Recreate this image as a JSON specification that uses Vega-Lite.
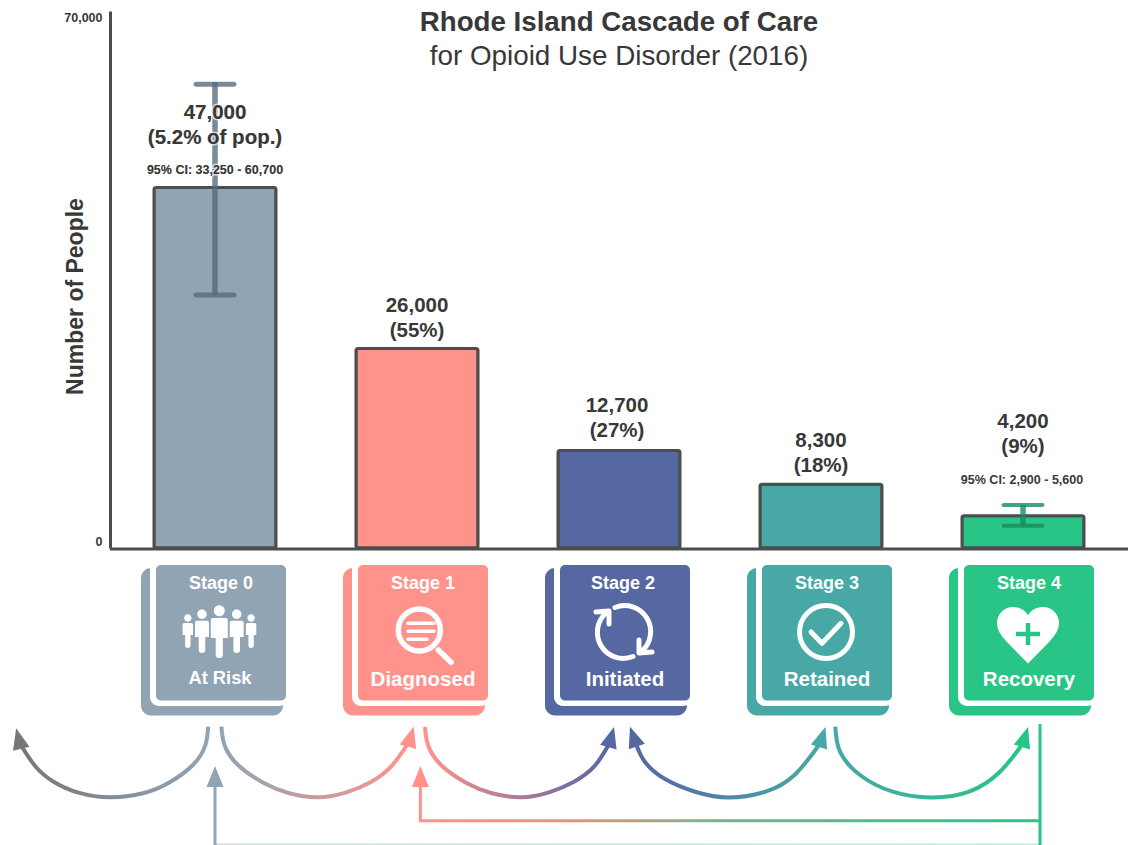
{
"$schema":"https://vega.github.io/schema/vega-lite/v6.json",
"width":1132,"height":845,"padding":0,"autosize":{"type":"none"},"background":"#ffffff",
"config":{"view":{"stroke":null},"font":"Liberation Sans","text":{"font":"Liberation Sans"}},
"title":{"text":"Rhode Island Cascade of Care","subtitle":"for Opioid Use Disorder (2016)","anchor":"middle","frame":"group","dx":53,"dy":75,"font":"Liberation Sans","fontSize":27.7,"fontWeight":"bold","color":"#383838","subtitleFont":"Liberation Sans","subtitleFontSize":27.8,"subtitleColor":"#383838","subtitlePadding":7},
"datasets":{
"stages":[
{"stage":"Stage 0","name":"At Risk","people":47000,"line1":"47,000","line2":"(5.2% of pop.)","ci":"95% CI: 33,250 - 60,700"},
{"stage":"Stage 1","name":"Diagnosed","people":26000,"line1":"26,000","line2":"(55%)"},
{"stage":"Stage 2","name":"Initiated","people":12700,"line1":"12,700","line2":"(27%)"},
{"stage":"Stage 3","name":"Retained","people":8300,"line1":"8,300","line2":"(18%)"},
{"stage":"Stage 4","name":"Recovery","people":4200,"line1":"4,200","line2":"(9%)","ci":"95% CI: 2,900 - 5,600"}],
"cis":[{"stage":"Stage 0","low":33250,"high":60700},{"stage":"Stage 4","low":2900,"high":5600}],
"arcs":[
{"arc":"exit","across":208.2,"down":726.7},{"arc":"exit","across":205.4,"down":745},{"arc":"exit","across":192.9,"down":765},{"arc":"exit","across":167.9,"down":783.3},{"arc":"exit","across":142.9,"down":793.3},{"arc":"exit","across":110.7,"down":797.3},{"arc":"exit","across":78.6,"down":792.7},{"arc":"exit","across":53.6,"down":781.7},{"arc":"exit","across":35.7,"down":766.7},{"arc":"exit","across":21.4,"down":746},
{"arc":"a01","across":221.4,"down":726.7},{"arc":"a01","across":224.5,"down":745},{"arc":"a01","across":238,"down":765},{"arc":"a01","across":264.3,"down":783.3},{"arc":"a01","across":289.3,"down":793.3},{"arc":"a01","across":317.9,"down":797.3},{"arc":"a01","across":346.4,"down":792.3},{"arc":"a01","across":371.4,"down":781.7},{"arc":"a01","across":391,"down":766.7},{"arc":"a01","across":407,"down":745},
{"arc":"a12","across":425,"down":727},{"arc":"a12","across":428,"down":745},{"arc":"a12","across":441,"down":765},{"arc":"a12","across":467,"down":783.3},{"arc":"a12","across":492,"down":793.3},{"arc":"a12","across":521,"down":797.3},{"arc":"a12","across":549,"down":792.3},{"arc":"a12","across":574,"down":781.7},{"arc":"a12","across":594,"down":766.7},{"arc":"a12","across":608,"down":746},
{"arc":"a23","across":636,"down":744},{"arc":"a23","across":645,"down":762},{"arc":"a23","across":665,"down":779},{"arc":"a23","across":696,"down":792},{"arc":"a23","across":729,"down":797.5},{"arc":"a23","across":765.5,"down":791.7},{"arc":"a23","across":794.5,"down":775},{"arc":"a23","across":819,"down":745},
{"arc":"a34","across":835.3,"down":726.7},{"arc":"a34","across":840,"down":751.7},{"arc":"a34","across":860,"down":775},{"arc":"a34","across":892.7,"down":791.7},{"arc":"a34","across":931,"down":797.5},{"arc":"a34","across":969,"down":791.7},{"arc":"a34","across":1000,"down":771.7},{"arc":"a34","across":1021.8,"down":745}],
"heads":[
{"toward":"Exit","across":18.7,"down":738.5,"angle":-14},
{"toward":"Stage 1","across":410.8,"down":736.6,"angle":15.6},
{"toward":"Stage 2","across":611.2,"down":737,"angle":15.6},
{"toward":"Stage 2","across":633.4,"down":736.6,"angle":-18.8},
{"toward":"Stage 3","across":822.2,"down":737,"angle":17.7},
{"toward":"Stage 4","across":1025,"down":737,"angle":17},
{"toward":"Stage 0","across":215,"down":776.5,"angle":0},
{"toward":"Stage 1","across":420.4,"down":776.5,"angle":0}],
"stems":[
{"stage":"Stage 4","across":1040,"top":724,"bottom":845},
{"stage":"Stage 1","across":420.4,"top":784,"bottom":822},
{"stage":"Stage 0","across":215,"top":784,"bottom":845}]
},
"resolve":{"scale":{"x":"independent","y":"independent"}},
"layer":[
{"data":{"name":"stages"},"mark":{"type":"bar","stroke":"#4d4d4d","strokeWidth":3,"cornerRadius":2},"encoding":{
"x":{"field":"stage","type":"nominal","axis":null,"sort":null,"scale":{"type":"band","domain":["Stage 0","Stage 1","Stage 2","Stage 3","Stage 4"],"range":[114,1124],"paddingInner":0.396,"paddingOuter":0.198}},
"y":{"field":"people","type":"quantitative","scale":{"domain":[0,70000],"range":[548,11],"nice":false,"zero":true},
"axis":{"title":"Number of People","values":[0,70000],"format":",d","offset":-110,"ticks":false,"grid":false,"labelFlush":true,"labelFont":"Liberation Sans","labelFontSize":12.5,"labelFontWeight":"bold","labelColor":"#383838","labelPadding":8,"domainColor":"#4d4d4d","domainWidth":3,"titleFont":"Liberation Sans","titleFontSize":23,"titleFontWeight":"bold","titleColor":"#383838","titleX":-23,"titleY":296}},
"color":{"field":"stage","type":"nominal","legend":null,"scale":{"domain":["Stage 0","Stage 1","Stage 2","Stage 3","Stage 4"],"range":["#91a4b3","#ff938b","#5668a2","#47a8a6","#29c587"]}}}},
{
"data":{"name":"stages"},
"encoding":{
"x":{"field":"stage","type":"nominal","axis":null,"sort":null,"scale":{"type":"band","domain":["Stage 0","Stage 1","Stage 2","Stage 3","Stage 4"],"range":[114,1124],"paddingInner":0.396,"paddingOuter":0.198}},
"y":{"field":"people","type":"quantitative","axis":null,"scale":{"domain":[0,70000],"range":[548,11],"nice":false,"zero":true}}
},
"layer":[
{"data":{"name":"cis"},"transform":[{"filter":"datum.stage==='Stage 0'"}],"mark":{"type":"rule","stroke":"#536a7c","strokeWidth":5.5,"opacity":0.78,"yOffset":2},"encoding":{"y":{"field":"low","type":"quantitative","axis":null},"y2":{"field":"high"}}},
{"data":{"name":"cis"},"transform":[{"filter":"datum.stage==='Stage 0'"},{"fold":["low","high"],"as":["bound","bound_value"]}],"mark":{"type":"tick","size":43,"thickness":5,"cornerRadius":2.5,"color":"#536a7c","opacity":0.78,"yOffset":2},"encoding":{"y":{"field":"bound_value","type":"quantitative","axis":null}}},
{"data":{"name":"cis"},"transform":[{"filter":"datum.stage==='Stage 4'"}],"mark":{"type":"rule","stroke":"#1a8a5f","strokeWidth":5.5,"opacity":0.8},"encoding":{"y":{"field":"low","type":"quantitative","axis":null},"y2":{"field":"high"}}},
{"data":{"name":"cis"},"transform":[{"filter":"datum.stage==='Stage 4'"},{"fold":["low","high"],"as":["bound","bound_value"]}],"mark":{"type":"tick","size":43,"thickness":4,"cornerRadius":2,"color":"#1a8a5f","opacity":0.8},"encoding":{"y":{"field":"bound_value","type":"quantitative","axis":null}}},
{"transform":[{"filter":"datum.stage==='Stage 0'"}],"mark":{"type":"text","dy":-74.5,"baseline":"middle","fontSize":20.5,"fontWeight":"bold","stroke":"#ffffff","strokeWidth":3,"strokeOpacity":0.7},"encoding":{"text":{"field":"line1"}}},
{"transform":[{"filter":"datum.stage==='Stage 0'"}],"mark":{"type":"text","dy":-49.5,"baseline":"middle","fontSize":20.5,"fontWeight":"bold","stroke":"#ffffff","strokeWidth":3,"strokeOpacity":0.7},"encoding":{"text":{"field":"line2"}}},
{"transform":[{"filter":"datum.stage==='Stage 0'"}],"mark":{"type":"text","dy":-17.5,"baseline":"middle","fontSize":12.5,"fontWeight":"bold","stroke":"#ffffff","strokeWidth":3,"strokeOpacity":0.7},"encoding":{"text":{"field":"ci"}}},
{"transform":[{"filter":"datum.stage==='Stage 0'"}],"mark":{"type":"text","dy":-74.5,"baseline":"middle","fontSize":20.5,"fontWeight":"bold","color":"#383838"},"encoding":{"text":{"field":"line1"}}},
{"transform":[{"filter":"datum.stage==='Stage 0'"}],"mark":{"type":"text","dy":-49.5,"baseline":"middle","fontSize":20.5,"fontWeight":"bold","color":"#383838"},"encoding":{"text":{"field":"line2"}}},
{"transform":[{"filter":"datum.stage==='Stage 0'"}],"mark":{"type":"text","dy":-17.5,"baseline":"middle","fontSize":12.5,"fontWeight":"bold","color":"#383838"},"encoding":{"text":{"field":"ci"}}},
{"transform":[{"filter":"datum.stage==='Stage 1'||datum.stage==='Stage 3'"}],"mark":{"type":"text","dy":-43,"baseline":"middle","fontSize":20.5,"fontWeight":"bold","color":"#383838"},"encoding":{"text":{"field":"line1"}}},
{"transform":[{"filter":"datum.stage==='Stage 1'||datum.stage==='Stage 3'"}],"mark":{"type":"text","dy":-18,"baseline":"middle","fontSize":20.5,"fontWeight":"bold","color":"#383838"},"encoding":{"text":{"field":"line2"}}},
{"transform":[{"filter":"datum.stage==='Stage 2'"}],"mark":{"type":"text","dy":-45,"xOffset":-2,"baseline":"middle","fontSize":20.5,"fontWeight":"bold","color":"#383838"},"encoding":{"text":{"field":"line1"}}},
{"transform":[{"filter":"datum.stage==='Stage 2'"}],"mark":{"type":"text","dy":-20,"xOffset":-2,"baseline":"middle","fontSize":20.5,"fontWeight":"bold","color":"#383838"},"encoding":{"text":{"field":"line2"}}},
{"transform":[{"filter":"datum.stage==='Stage 4'"}],"mark":{"type":"text","dy":-94,"baseline":"middle","fontSize":20.5,"fontWeight":"bold","color":"#383838"},"encoding":{"text":{"field":"line1"}}},
{"transform":[{"filter":"datum.stage==='Stage 4'"}],"mark":{"type":"text","dy":-69,"baseline":"middle","fontSize":20.5,"fontWeight":"bold","color":"#383838"},"encoding":{"text":{"field":"line2"}}},
{"transform":[{"filter":"datum.stage==='Stage 4'"}],"mark":{"type":"text","dy":-36,"xOffset":-1,"baseline":"middle","fontSize":12.5,"fontWeight":"bold","color":"#383838"},"encoding":{"text":{"field":"ci"}}}
]
},
{
"data":{"name":"stages"},
"encoding":{
"x":{"field":"stage","type":"nominal","axis":null,"sort":null,"scale":{"type":"band","domain":["Stage 0","Stage 1","Stage 2","Stage 3","Stage 4"],"range":[114,1124],"paddingInner":0.396,"paddingOuter":0.198}}
},
"layer":[
{"mark":{"type":"rect","width":142,"xOffset":-3,"cornerRadius":10},"encoding":{"y":{"datum":568,"type":"quantitative","axis":null,"scale":{"domain":[0,845],"range":[0,845],"nice":false,"zero":false}},"y2":{"datum":715.5},"color":{"field":"stage","type":"nominal","legend":null}}},
{"mark":{"type":"rect","width":138,"xOffset":4,"cornerRadius":9,"color":"#ffffff"},"encoding":{"y":{"datum":558,"type":"quantitative","axis":null},"y2":{"datum":706}}},
{"mark":{"type":"rect","width":130,"xOffset":6,"cornerRadius":5},"encoding":{"y":{"datum":565,"type":"quantitative","axis":null},"y2":{"datum":700.5},"color":{"field":"stage","type":"nominal","legend":null}}},
{"transform":[{"filter":"datum.stage!=='Stage 2'"}],"mark":{"type":"text","xOffset":6,"baseline":"middle","fontSize":18,"fontWeight":"bold","color":"#ffffff"},"encoding":{"y":{"datum":584,"type":"quantitative","axis":null},"text":{"field":"stage"}}},
{"transform":[{"filter":"datum.stage==='Stage 2'"}],"mark":{"type":"text","xOffset":4,"baseline":"middle","fontSize":18,"fontWeight":"bold","color":"#ffffff"},"encoding":{"y":{"datum":584,"type":"quantitative","axis":null},"text":{"field":"stage"}}},
{"transform":[{"filter":"datum.stage==='Stage 0'"}],"mark":{"type":"text","xOffset":5,"baseline":"middle","fontSize":18.3,"fontWeight":"bold","color":"#ffffff"},"encoding":{"y":{"datum":679,"type":"quantitative","axis":null},"text":{"field":"name"}}},
{"transform":[{"filter":"datum.stage!=='Stage 0'"}],"mark":{"type":"text","xOffset":6,"baseline":"middle","fontSize":20.5,"fontWeight":"bold","color":"#ffffff"},"encoding":{"y":{"datum":680,"type":"quantitative","axis":null},"text":{"field":"name"}}},
{"transform":[{"filter":"datum.stage==='Stage 0'"}],"mark":{"type":"point","filled":true,"opacity":1,"color":"#ffffff","size":4,"xOffset":4.3,"shape":"M-5.5,-21.3a5.5,5.5 0 1,0 11,0a5.5,5.5 0 1,0 -11,0zM-8.5,-12q0,-2 2,-2h13q2,0 2,2v18h-4.9v16.4q0,3.6 -3.6,3.6q-3.6,0 -3.6,-3.6v-16.4h-4.9zM-22,-17.7a4.7,4.7 0 1,0 9.4,0a4.7,4.7 0 1,0 -9.4,0zM-24.3,-9.3q0,-2 2,-2h10q2,0 2,2v14.3h-3.7v12.7q0,3.3 -3.3,3.3q-3.3,0 -3.3,-3.3v-12.7h-3.7zM12.7,-17.7a4.7,4.7 0 1,0 9.4,0a4.7,4.7 0 1,0 -9.4,0zM10.4,-9.3q0,-2 2,-2h10q2,0 2,2v14.3h-3.7v12.7q0,3.3 -3.3,3.3q-3.3,0 -3.3,-3.3v-12.7h-3.7zM-35.2,-14a3.7,3.7 0 1,0 7.4,0a3.7,3.7 0 1,0 -7.4,0zM-36.7,-7.5q0,-1.5 1.5,-1.5h7.4q1.5,0 1.5,1.5v10.5h-2.5v10.3q0,2.7 -2.7,2.7q-2.7,0 -2.7,-2.7v-10.3h-2.5zM28.1,-14a3.7,3.7 0 1,0 7.4,0a3.7,3.7 0 1,0 -7.4,0zM26.6,-7.5q0,-1.5 1.5,-1.5h7.4q1.5,0 1.5,1.5v10.5h-2.5v10.3q0,2.7 -2.7,2.7q-2.7,0 -2.7,-2.7v-10.3h-2.5z"},"encoding":{"y":{"datum":632,"type":"quantitative","axis":null}}},
{"transform":[{"filter":"datum.stage==='Stage 1'"}],"mark":{"type":"point","filled":false,"opacity":1,"color":"#ffffff","strokeWidth":5.5,"strokeCap":"round","size":4,"xOffset":2.3,"shape":"M-21,0a21,21 0 1,0 42,0a21,21 0 1,0 -42,0zM19,20L31.7,32.3"},"encoding":{"y":{"datum":630,"type":"quantitative","axis":null}}},
{"transform":[{"filter":"datum.stage==='Stage 1'"}],"mark":{"type":"point","filled":false,"opacity":1,"color":"#ffffff","strokeWidth":3.5,"strokeCap":"round","size":4,"xOffset":2.3,"shape":"M-11.3,-6.7H14.7M-11.3,1.3H14.7M-11.3,9.3H7.7"},"encoding":{"y":{"datum":630,"type":"quantitative","axis":null}}},
{"transform":[{"filter":"datum.stage==='Stage 2'"}],"mark":{"type":"point","filled":false,"opacity":1,"color":"#ffffff","strokeWidth":5,"strokeCap":"round","strokeJoin":"round","size":4,"xOffset":5,"shape":"M-9,-24.5A26,26 0 0,1 18,19M9,24.5A26,26 0 0,1 -18,-19M-28,-20L-15,-21L-15,-8M28,20L15,21L15,8"},"encoding":{"y":{"datum":632,"type":"quantitative","axis":null}}},
{"transform":[{"filter":"datum.stage==='Stage 3'"}],"mark":{"type":"point","filled":false,"opacity":1,"color":"#ffffff","strokeWidth":5,"strokeCap":"round","strokeJoin":"round","size":4,"xOffset":5,"shape":"M-26.5,0a26.5,26.5 0 1,0 53,0a26.5,26.5 0 1,0 -53,0zM-15,0L-4,11.3L15,-8.7"},"encoding":{"y":{"datum":632,"type":"quantitative","axis":null}}},
{"transform":[{"filter":"datum.stage==='Stage 4'"}],"mark":{"type":"point","filled":true,"opacity":1,"color":"#ffffff","size":4,"xOffset":5,"shape":"M0,-20C-4,-26 -10,-28 -15,-28C-24,-28 -31,-21 -31,-12C-31,-5 -27,0 -22,6L0,28.5L22,6C27,0 31,-5 31,-12C31,-21 24,-28 15,-28C10,-28 4,-26 0,-20Z"},"encoding":{"y":{"datum":635,"type":"quantitative","axis":null}}},
{"transform":[{"filter":"datum.stage==='Stage 4'"}],"mark":{"type":"point","filled":false,"opacity":1,"color":"#29c587","strokeWidth":4.5,"size":4,"xOffset":5,"shape":"M-12,0H12M0,-11V11"},"encoding":{"y":{"datum":634,"type":"quantitative","axis":null}}}
]
},
{
"layer":[
{"data":{"values":[{}]},"mark":{"type":"rule","stroke":"#4d4d4d","strokeWidth":3},"encoding":{"x":{"datum":110,"type":"quantitative","axis":null,"scale":{"domain":[0,1132],"range":[0,1132],"nice":false,"zero":false}},"x2":{"datum":1128},"y":{"datum":549,"type":"quantitative","axis":null,"scale":{"domain":[0,845],"range":[0,845],"nice":false,"zero":false}}}},
{"data":{"name":"arcs"},"transform":[{"filter":"datum.arc==='exit'"}],"mark":{"type":"line","interpolate":"natural","strokeWidth":4,"stroke":{"gradient":"linear","x1":0,"y1":0,"x2":1,"y2":0,"stops":[{"offset":0,"color":"#777777"},{"offset":1,"color":"#91a4b3"}]}},"encoding":{"x":{"field":"across","type":"quantitative","axis":null},"y":{"field":"down","type":"quantitative","axis":null}}},
{"data":{"name":"arcs"},"transform":[{"filter":"datum.arc==='a01'"}],"mark":{"type":"line","interpolate":"natural","strokeWidth":4,"stroke":{"gradient":"linear","x1":0,"y1":0,"x2":1,"y2":0,"stops":[{"offset":0,"color":"#91a4b3"},{"offset":1,"color":"#ff938b"}]}},"encoding":{"x":{"field":"across","type":"quantitative","axis":null},"y":{"field":"down","type":"quantitative","axis":null}}},
{"data":{"name":"arcs"},"transform":[{"filter":"datum.arc==='a12'"}],"mark":{"type":"line","interpolate":"natural","strokeWidth":4,"stroke":{"gradient":"linear","x1":0,"y1":0,"x2":1,"y2":0,"stops":[{"offset":0,"color":"#ff938b"},{"offset":1,"color":"#5668a2"}]}},"encoding":{"x":{"field":"across","type":"quantitative","axis":null},"y":{"field":"down","type":"quantitative","axis":null}}},
{"data":{"name":"arcs"},"transform":[{"filter":"datum.arc==='a23'"}],"mark":{"type":"line","interpolate":"natural","strokeWidth":4,"stroke":{"gradient":"linear","x1":0,"y1":0,"x2":1,"y2":0,"stops":[{"offset":0,"color":"#5668a2"},{"offset":1,"color":"#47a8a6"}]}},"encoding":{"x":{"field":"across","type":"quantitative","axis":null},"y":{"field":"down","type":"quantitative","axis":null}}},
{"data":{"name":"arcs"},"transform":[{"filter":"datum.arc==='a34'"}],"mark":{"type":"line","interpolate":"natural","strokeWidth":4,"stroke":{"gradient":"linear","x1":0,"y1":0,"x2":1,"y2":0,"stops":[{"offset":0,"color":"#47a8a6"},{"offset":1,"color":"#29c587"}]}},"encoding":{"x":{"field":"across","type":"quantitative","axis":null},"y":{"field":"down","type":"quantitative","axis":null}}},
{"data":{"values":[{}]},"mark":{"type":"rect","color":{"gradient":"linear","x1":0,"y1":0,"x2":1,"y2":0,"stops":[{"offset":0,"color":"#ff938b"},{"offset":0.25,"color":"#e8907f"},{"offset":0.5,"color":"#6fb58e"},{"offset":1,"color":"#29c587"}]}},"encoding":{"x":{"datum":419,"type":"quantitative","axis":null},"x2":{"datum":1041},"y":{"datum":819.3,"type":"quantitative","axis":null},"y2":{"datum":822.3}}},
{"data":{"values":[{}]},"mark":{"type":"rect","color":{"gradient":"linear","x1":0,"y1":0,"x2":1,"y2":0,"stops":[{"offset":0,"color":"#d5dde3"},{"offset":1,"color":"#bdeedb"}]}},"encoding":{"x":{"datum":215,"type":"quantitative","axis":null},"x2":{"datum":1041},"y":{"datum":843.6,"type":"quantitative","axis":null},"y2":{"datum":846}}},
{"data":{"name":"stems"},"mark":{"type":"rule","strokeWidth":3},"encoding":{"x":{"field":"across","type":"quantitative","axis":null},"y":{"field":"top","type":"quantitative","axis":null},"y2":{"field":"bottom"},"stroke":{"field":"stage","type":"nominal","legend":null,"scale":{"domain":["Exit","Stage 0","Stage 1","Stage 2","Stage 3","Stage 4"],"range":["#777777","#91a4b3","#ff938b","#5668a2","#47a8a6","#29c587"]}}}},
{"data":{"name":"heads"},"mark":{"type":"point","filled":true,"opacity":1,"size":4,"strokeWidth":0,"shape":"M0,-10.5L-8.5,10.5L8.5,10.5Z"},"encoding":{"x":{"field":"across","type":"quantitative","axis":null},"y":{"field":"down","type":"quantitative","axis":null},"angle":{"field":"angle","type":"quantitative","scale":null},"fill":{"field":"toward","type":"nominal","legend":null,"scale":{"domain":["Exit","Stage 0","Stage 1","Stage 2","Stage 3","Stage 4"],"range":["#777777","#91a4b3","#ff938b","#5668a2","#47a8a6","#29c587"]}}}}
]
}
]
}
